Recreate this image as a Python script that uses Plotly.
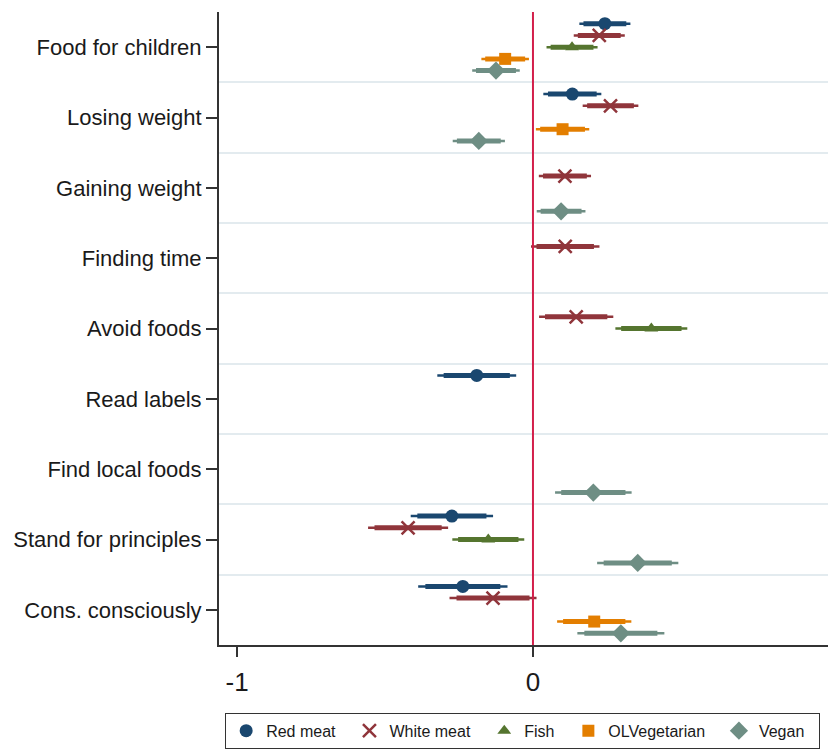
import plotly.graph_objects as go

categories = ["Food for children", "Losing weight", "Gaining weight", "Finding time",
              "Avoid foods", "Read labels", "Find local foods",
              "Stand for principles", "Cons. consciously"]

series_names = ["Red meat", "White meat", "Fish", "OLVegetarian", "Vegan"]

red_meat_est = [0.243, 0.133, None, None, None, -0.190, None, -0.274, -0.237]
red_meat_se = [0.044, 0.050, None, None, None, 0.068, None, 0.071, 0.077]
white_meat_est = [0.224, 0.262, 0.108, 0.109, 0.146, None, None, -0.422, -0.135]
white_meat_se = [0.044, 0.048, 0.045, 0.059, 0.064, None, None, 0.069, 0.075]
fish_est = [0.132, None, None, None, 0.400, None, None, -0.151, None]
fish_se = [0.044, None, None, None, 0.062, None, None, 0.062, None]
olveg_est = [-0.094, 0.100, None, None, None, None, None, None, 0.207]
olveg_se = [0.041, 0.046, None, None, None, None, None, None, 0.064]
vegan_est = [-0.125, -0.183, 0.095, None, None, None, 0.204, 0.354, 0.297]
vegan_se = [0.041, 0.045, 0.042, None, None, None, 0.066, 0.070, 0.075]

x_ticks = [-1, 0, 1]
x_tick_labels = ["-1", "0", "1"]

estimates = [red_meat_est, white_meat_est, fish_est, olveg_est, vegan_est]
std_errs = [red_meat_se, white_meat_se, fish_se, olveg_se, vegan_se]
colors = ["#1a476f", "#90353b", "#55752f", "#e37e00", "#6e8e84"]
symbols = ["circle", "x-thin", "triangle-up", "square", "diamond"]
sizes = [13, 13, 12, 12, 14]

fig = go.Figure()
n = len(series_names)
step = 1 / 6
for s in range(n):
    off = (s - (n - 1) / 2) * step
    xs, ys, xo, yo, xi, yi = [], [], [], [], [], []
    for i, (e, se) in enumerate(zip(estimates[s], std_errs[s])):
        if e is None:
            continue
        y = i + off
        xs.append(e); ys.append(y)
        xo += [e - 1.96 * se, e + 1.96 * se, None]; yo += [y, y, None]
        xi += [e - 1.645 * se, e + 1.645 * se, None]; yi += [y, y, None]
    fig.add_trace(go.Scatter(x=xo, y=yo, mode="lines", line=dict(color=colors[s], width=2.5),
                             showlegend=False, hoverinfo="skip"))
    fig.add_trace(go.Scatter(x=xi, y=yi, mode="lines", line=dict(color=colors[s], width=5),
                             showlegend=False, hoverinfo="skip"))
    if symbols[s] == "x-thin":
        marker = dict(symbol="x-thin", size=sizes[s], line=dict(width=2.5, color=colors[s]), color=colors[s])
    else:
        marker = dict(symbol=symbols[s], size=sizes[s], color=colors[s], line=dict(width=0))
    fig.add_trace(go.Scatter(x=xs, y=ys, mode="markers", marker=marker,
                             name=series_names[s] + "\u00a0\u00a0"))

fig.add_shape(type="line", xref="x", yref="paper", x0=0, x1=0, y0=0, y1=1,
              line=dict(color="#d31f4b", width=2), layer="above")

fig.update_layout(
    width=828, height=741,
    margin=dict(l=211, r=0, t=4, b=101),
    paper_bgcolor="white", plot_bgcolor="white",
    font=dict(family="Liberation Sans, Arial, sans-serif", color="#1a1a1a"),
    legend=dict(orientation="h", x=0.01, y=-0.107, xanchor="left", yanchor="top",
                bordercolor="#333", borderwidth=1, font=dict(size=16), itemwidth=30),
    xaxis=dict(range=[-1.061, 1.024], tickvals=x_ticks, ticktext=x_tick_labels,
               showgrid=False, zeroline=False, showline=True, linecolor="#333", linewidth=2,
               ticks="outside", ticklen=10, tickwidth=1.5, tickcolor="#333",
               tickfont=dict(size=26), automargin=False, ticklabelstandoff=3),
    yaxis=dict(range=[8.5, -0.5], tickvals=list(range(len(categories))), ticktext=categories,
               showgrid=False, zeroline=False, showline=True, linecolor="#333", linewidth=2,
               ticks="outside", ticklen=11, tickwidth=1.5, tickcolor="#333",
               tickfont=dict(size=22), automargin=False,
               minor=dict(tickvals=[i + 0.5 for i in range(len(categories) - 1)],
                          showgrid=True, gridcolor="#e3ebef", gridwidth=1.5, ticks="")),
)

fig.write_html("out.html")
